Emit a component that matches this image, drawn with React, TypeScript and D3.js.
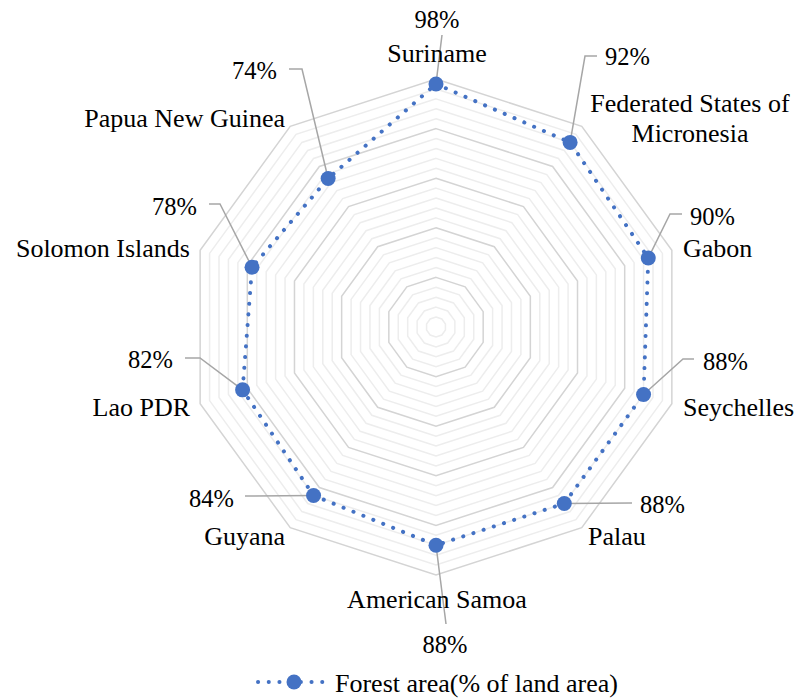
import React from 'react';
import * as d3 from 'd3';

const countries = [
  'Suriname',
  'Federated States of Micronesia',
  'Gabon',
  'Seychelles',
  'Palau',
  'American Samoa',
  'Guyana',
  'Lao PDR',
  'Solomon Islands',
  'Papua New Guinea',
];
const forestArea = [98, 92, 90, 88, 88, 88, 84, 82, 78, 74];
const valueLabels = ['98%', '92%', '90%', '88%', '88%', '88%', '84%', '82%', '78%', '74%'];
const gridTicks = d3.range(4, 101, 4); // minor every 4, major every 20
const seriesName = 'Forest area(% of land area)';

// label layout (text positions + leader elbows), one entry per category
const catLayout = [
  { x: 437, y: 62, anchor: 'middle', lines: ['Suriname'] },
  { x: 690, y: 112, anchor: 'middle', lines: ['Federated States of', 'Micronesia'] },
  { x: 683, y: 257, anchor: 'start', lines: ['Gabon'] },
  { x: 683, y: 416, anchor: 'start', lines: ['Seychelles'] },
  { x: 588, y: 545, anchor: 'start', lines: ['Palau'] },
  { x: 437, y: 608, anchor: 'middle', lines: ['American Samoa'] },
  { x: 285, y: 545, anchor: 'end', lines: ['Guyana'] },
  { x: 190, y: 416, anchor: 'end', lines: ['Lao PDR'] },
  { x: 190, y: 257, anchor: 'end', lines: ['Solomon Islands'] },
  { x: 285, y: 127, anchor: 'end', lines: ['Papua New Guinea'] },
];
const valLayout = [
  { x: 437, y: 28, anchor: 'middle', leader: [[442, 35]] },
  { x: 605, y: 65, anchor: 'start', leader: [[585, 56], [597, 56]] },
  { x: 690, y: 225, anchor: 'start', leader: [[670, 214], [682, 214]] },
  { x: 703, y: 370, anchor: 'start', leader: [[683, 359], [694, 359]] },
  { x: 640, y: 513, anchor: 'start', leader: [[632, 503]] },
  { x: 445, y: 653, anchor: 'middle', leader: [[446, 624]] },
  { x: 234, y: 507, anchor: 'end', leader: [[245, 496]] },
  { x: 173, y: 368, anchor: 'end', leader: [[200, 358], [185, 358]] },
  { x: 197, y: 215, anchor: 'end', leader: [[220, 204], [209, 204]] },
  { x: 277, y: 79, anchor: 'end', leader: [[302, 69], [289, 69]] },
];

const W = 796;
const H = 698;
const cx = 436;
const cy = 327;
const R = 248;
const BLUE = '#4472C4';
const FONT = "'Liberation Serif', 'DejaVu Serif', 'Times New Roman', Times, serif";

export default function App() {
  const r = d3.scaleLinear().domain([0, 100]).range([0, R]);
  const angle = d3
    .scaleLinear()
    .domain([0, countries.length])
    .range([0, 2 * Math.PI]);

  const ring = (v: number) =>
    d3
      .lineRadial<number>()
      .angle((_, i) => angle(i))
      .radius(() => r(v))
      .curve(d3.curveLinearClosed)(countries.map(() => v));

  const seriesPath = d3
    .lineRadial<number>()
    .angle((_, i) => angle(i))
    .radius((d) => r(d))
    .curve(d3.curveLinearClosed)(forestArea);

  const pt = (v: number, i: number): [number, number] => [
    cx + r(v) * Math.sin(angle(i)),
    cy - r(v) * Math.cos(angle(i)),
  ];

  return (
    <svg
      width={W}
      height={H}
      style={{ position: 'absolute', left: 0, top: 0, background: '#fff', fontFamily: FONT }}
    >
      <g transform={`translate(${cx},${cy})`}>
        {gridTicks
          .filter((t) => t % 20 !== 0)
          .map((t) => (
            <path key={t} d={ring(t) || ''} fill="none" stroke="#ededed" strokeWidth={1.5} />
          ))}
        {gridTicks
          .filter((t) => t % 20 === 0)
          .map((t) => (
            <path key={t} d={ring(t) || ''} fill="none" stroke="#d4d4d4" strokeWidth={1.5} />
          ))}
        <path
          d={seriesPath || ''}
          fill="none"
          stroke={BLUE}
          strokeWidth={4}
          strokeLinecap="round"
          strokeDasharray="0.1 10.6"
        />
      </g>

      {forestArea.map((v, i) => {
        const [x, y] = pt(v, i);
        const pts = [[x, y], ...valLayout[i].leader];
        return (
          <polyline
            key={'l' + i}
            points={pts.map((p) => p.join(',')).join(' ')}
            fill="none"
            stroke="#a6a6a6"
            strokeWidth={1.5}
          />
        );
      })}

      {forestArea.map((v, i) => {
        const [x, y] = pt(v, i);
        return <circle key={'m' + i} cx={x} cy={y} r={7.5} fill={BLUE} />;
      })}

      {valueLabels.map((t, i) => (
        <text
          key={'v' + i}
          x={valLayout[i].x}
          y={valLayout[i].y}
          textAnchor={valLayout[i].anchor as any}
          style={{ fontFamily: FONT }}
          fontSize={24.5}
          fill="#000"
        >
          {t}
        </text>
      ))}

      {catLayout.map((c, i) => (
        <text
          key={'c' + i}
          textAnchor={c.anchor as any}
          style={{ fontFamily: FONT }}
          fontSize={26}
          fill="#000"
        >
          {c.lines.map((ln, j) => (
            <tspan key={j} x={c.x} y={c.y + j * 30}>
              {ln}
            </tspan>
          ))}
        </text>
      ))}

      <g transform="translate(0,682)">
        <line
          x1={258}
          x2={327}
          y1={0}
          y2={0}
          stroke={BLUE}
          strokeWidth={4}
          strokeLinecap="round"
          strokeDasharray="0.1 10.6"
        />
        <circle cx={294} cy={0} r={7.5} fill={BLUE} />
        <text x={335} y={10} style={{ fontFamily: FONT }} fontSize={26} fill="#000">
          {seriesName}
        </text>
      </g>
    </svg>
  );
}
